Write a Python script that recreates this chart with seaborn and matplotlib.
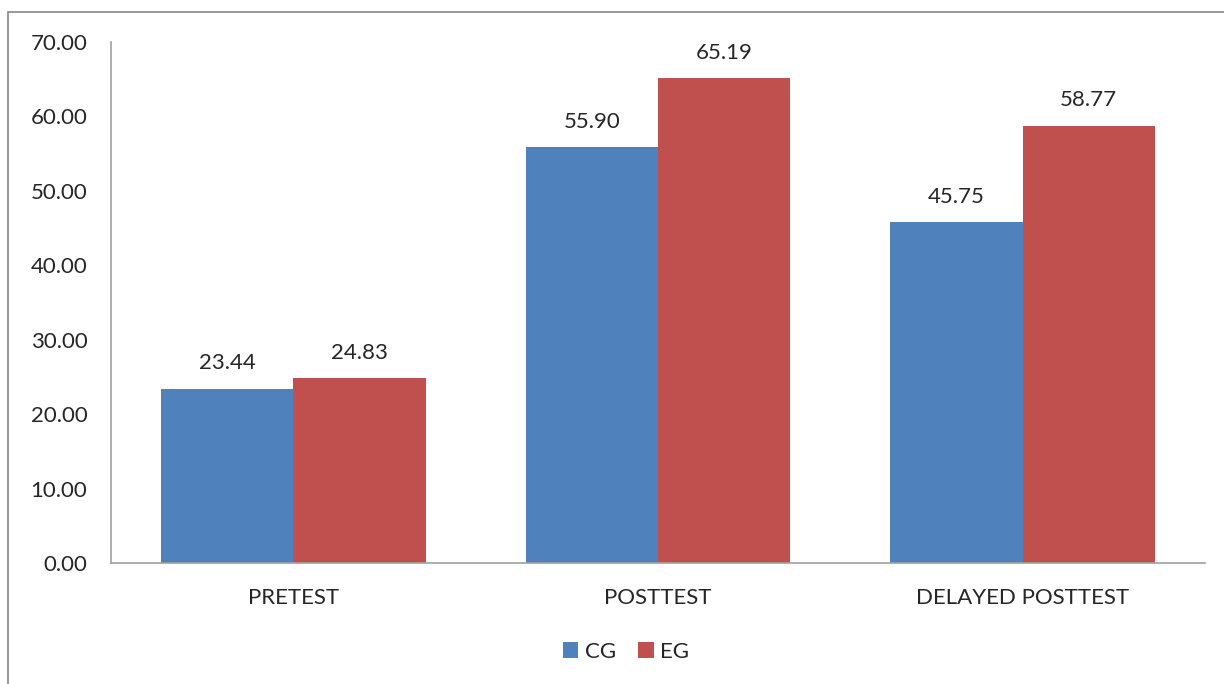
import pandas as pd
import matplotlib
matplotlib.use("Agg")
import matplotlib.pyplot as plt
import seaborn as sns
from matplotlib.patches import Rectangle

categories = ["PRETEST", "POSTTEST", "DELAYED POSTTEST"]
groups = ["CG", "EG"]
cg_values = [23.44, 55.90, 45.75]
eg_values = [24.83, 65.19, 58.77]
colors = ["#4F81BD", "#C0504D"]

df = pd.DataFrame({
    "test": categories * 2,
    "group": ["CG"] * 3 + ["EG"] * 3,
    "score": cg_values + eg_values,
})

sns.set_style("white")
plt.rcParams["font.family"] = ["Lato", "DejaVu Sans"]

fig = plt.figure(figsize=(12.24, 6.84), dpi=100)
ax = fig.add_axes([0.0907, 0.1769, 0.8938, 0.7617])

sns.barplot(data=df, x="test", y="score", hue="group", order=categories,
            hue_order=groups, palette=colors, width=0.725, saturation=1,
            errorbar=None, linewidth=0, ax=ax)

for cont in ax.containers:
    ax.bar_label(cont, labels=[f"{v:.2f}" for v in cont.datavalues],
                 padding=11, fontsize=16)

ax.set_ylim(0, 70)
ax.set_xlim(-0.5, 2.5)
ax.set_yticks(range(0, 71, 10))
ax.set_yticklabels([f"{v:.2f}" for v in range(0, 71, 10)], fontsize=16)
ax.tick_params(axis="x", labelsize=16, length=0, pad=18)
ax.tick_params(axis="y", length=0, pad=17)
ax.set_xlabel("")
ax.set_ylabel("")
for s in ["top", "right"]:
    ax.spines[s].set_visible(False)
for s in ["left", "bottom"]:
    ax.spines[s].set_color("#A0A0A0")
    ax.spines[s].set_linewidth(1.2)

handles, labels = ax.get_legend_handles_labels()
ax.get_legend().remove()
fig.legend(handles, labels, loc="center", bbox_to_anchor=(626 / 1224, 1 - 652 / 684),
           ncol=2, frameon=False, fontsize=16, handlelength=0.7,
           handleheight=0.7, handletextpad=0.3, columnspacing=1.0)

fig.patches.append(Rectangle((8 / 1224, -0.1), 1.1, 1 - 12 / 684 + 0.1,
                             transform=fig.transFigure, fill=False,
                             edgecolor="#888888", linewidth=1.2))

fig.savefig("out.png", dpi=100)
